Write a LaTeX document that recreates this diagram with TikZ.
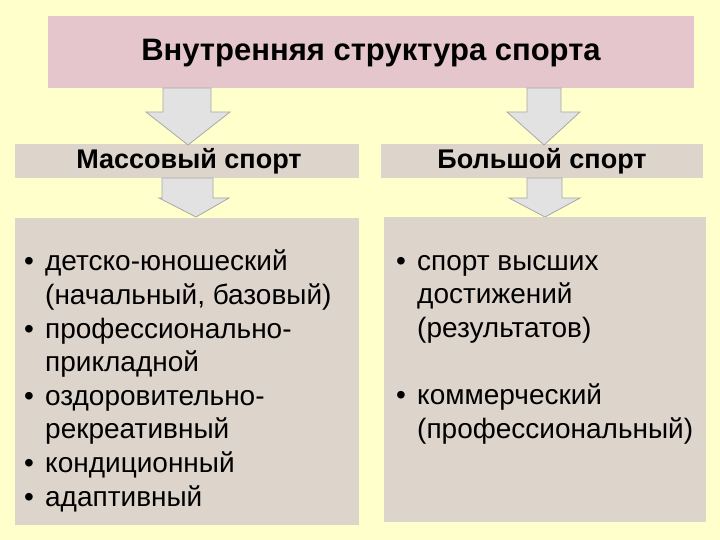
\documentclass[tikz,border=0pt]{standalone}
\usepackage{fontspec}
\setmainfont{Liberation Sans}
\newcommand{\bul}{\makebox[21pt][l]{•}}
\newcommand{\ind}{\hspace*{21pt}}
\begin{document}
\begin{tikzpicture}[x=1pt,y=-1pt,
  box/.style={fill=boxc,draw=none},
  arr/.style={fill=arrc,draw=arrd,line width=0.8pt,line join=miter},
  lbl/.style={font=\bfseries\fontsize{27}{30}\selectfont},
  item/.style={anchor=north west,align=left,font=\fontsize{28}{33.6}\selectfont,inner sep=0}]
\definecolor{bgc}{HTML}{FFFFCC}
\definecolor{boxc}{HTML}{DDD5CC}
\definecolor{titc}{HTML}{E5C6CC}
\definecolor{arrc}{HTML}{E2E2E2}
\definecolor{arrd}{HTML}{A8A8A8}
\fill[bgc] (0,0) rectangle (720,540);
\useasboundingbox (0,0) rectangle (720,540);
\fill[titc] (48,16) rectangle (694,88);
\node[font=\bfseries\fontsize{31}{34}\selectfont] (t) at (371,53) {Внутренняя структура спорта};
\fill[box] (15,144) rectangle (359,178);
\node[lbl] (m) at (189,161) {Массовый спорт};
\fill[box] (381,144) rectangle (703,178);
\node[lbl] (b) at (542,161) {Большой спорт};
% arrows
\draw[arr] (163,88) -- (211,88) -- (211,112) -- (230,112) -- (188,145) -- (146,112) -- (163,112) -- cycle;
\draw[arr] (527,88) -- (561,88) -- (561,112) -- (580,112) -- (544,145) -- (507,112) -- (527,112) -- cycle;
\draw[arr] (162,178) -- (213,178) -- (213,198) -- (229,198) -- (196,217) -- (159,198) -- (162,198) -- cycle;
\draw[arr] (527,178) -- (562,178) -- (562,198) -- (580,198) -- (545,217) -- (509,198) -- (527,198) -- cycle;
\fill[box] (15,218) rectangle (359,525);
\fill[box] (384,217) rectangle (706,522);
\node[item] (l) at (24,250) {\bul детско-юношеский\\
\ind(начальный, базовый)\\
\bul профессионально-\\
\ind прикладной\\
\bul оздоровительно-\\
\ind рекреативный\\
\bul кондиционный\\
\bul адаптивный};
\node[item] (r) at (396,255) {\bul спорт высших\\
\ind достижений\\
\ind(результатов)\\[33.6pt]
\bul коммерческий\\
\ind(профессиональный)};
\end{tikzpicture}
\end{document}
